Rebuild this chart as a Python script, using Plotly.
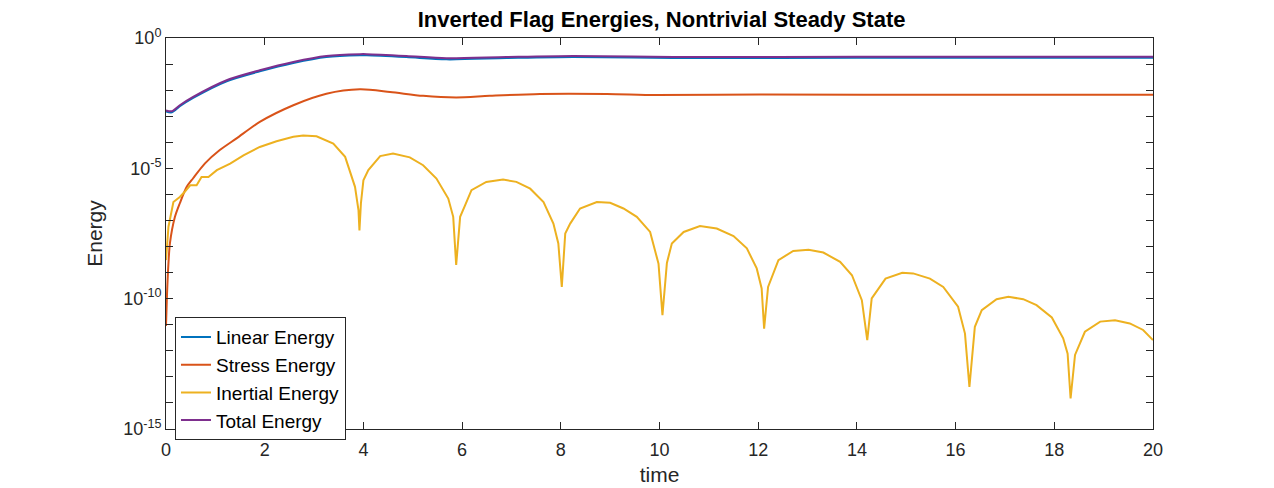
import numpy as np
import plotly.graph_objects as go

# values; energies kept as log10 exponents
total_t = [0.0, 0.12, 0.28, 0.55, 1.23, 1.90, 2.58, 3.25, 3.93, 4.07, 4.87, 5.68,
           6.90, 8.25, 10.28, 14.0, 20.0]
total_log10 = [-2.78, -2.81, -2.58, -2.26, -1.62, -1.24, -0.92, -0.69, -0.62, -0.62,
               -0.69, -0.78, -0.73, -0.69, -0.73, -0.72, -0.72]

linear_t = total_t
linear_log10 = [-2.82, -2.85, -2.62, -2.30, -1.66, -1.28, -0.96, -0.73, -0.66, -0.66,
                -0.73, -0.82, -0.77, -0.73, -0.77, -0.76, -0.76]

stress_t = [0.0, 0.02, 0.05, 0.08, 0.18, 0.28, 0.42, 0.55, 0.79, 1.09, 1.43, 1.90,
            2.58, 3.25, 3.93, 4.54, 5.21, 5.88, 6.56, 7.58, 8.93, 9.94, 12.03, 16.0, 20.0]
stress_log10 = [-11.05, -9.85, -8.63, -7.87, -6.87, -6.34, -5.71, -5.38, -4.81, -4.30,
                -3.85, -3.22, -2.58, -2.14, -1.97, -2.07, -2.22, -2.28, -2.22, -2.15,
                -2.15, -2.19, -2.17, -2.18, -2.18]

inertial_t = [0.0, 0.05, 0.15, 0.28, 0.38, 0.49, 0.62, 0.72, 0.86, 1.03, 1.30, 1.57,
              1.90, 2.24, 2.58, 2.78, 3.05, 3.39, 3.63, 3.79, 3.83, 3.90, 3.92, 3.95,
              4.00, 4.10, 4.34, 4.60, 4.94, 5.21, 5.48, 5.72, 5.82, 5.88, 5.96, 6.06,
              6.19, 6.49, 6.83, 7.10, 7.38, 7.65, 7.85, 7.95, 8.02, 8.09, 8.19, 8.39,
              8.73, 9.00, 9.27, 9.54, 9.81, 9.98, 10.06, 10.15, 10.25, 10.49, 10.82,
              11.16, 11.50, 11.77, 11.97, 12.07, 12.12, 12.20, 12.41, 12.71, 13.02,
              13.32, 13.66, 13.90, 14.10, 14.21, 14.30, 14.58, 14.92, 15.14, 15.48,
              15.75, 16.05, 16.19, 16.28, 16.39, 16.53, 16.83, 17.07, 17.37, 17.64,
              17.95, 18.18, 18.27, 18.33, 18.42, 18.62, 18.93, 19.23, 19.53, 19.80, 20.0]
inertial_log10 = [-8.52, -7.24, -6.29, -6.10, -5.90, -5.65, -5.65, -5.33, -5.33, -5.07,
                  -4.82, -4.50, -4.18, -3.96, -3.79, -3.74, -3.77, -4.05, -4.56, -5.46,
                  -5.71, -6.60, -7.38, -6.34, -5.46, -5.07, -4.53, -4.43, -4.58, -4.88,
                  -5.39, -6.16, -6.86, -8.71, -6.86, -6.42, -5.84, -5.52, -5.43, -5.52,
                  -5.78, -6.29, -7.12, -7.88, -9.55, -7.50, -7.12, -6.54, -6.29, -6.32,
                  -6.54, -6.86, -7.44, -8.66, -10.63, -8.63, -7.88, -7.44, -7.21, -7.31,
                  -7.60, -8.07, -8.84, -9.61, -11.15, -9.55, -8.52, -8.17, -8.12, -8.23,
                  -8.59, -9.10, -10.06, -11.59, -9.99, -9.23, -9.01, -9.03, -9.23, -9.55,
                  -10.31, -11.34, -13.39, -11.08, -10.44, -10.02, -9.93, -10.02, -10.25,
                  -10.72, -11.52, -12.11, -13.83, -12.16, -11.27, -10.88, -10.83, -10.95,
                  -11.20, -11.59]

x_ticks = [0, 2, 4, 6, 8, 10, 12, 14, 16, 18, 20]
y_decades = list(range(0, -16, -1))

series = [
    ("Linear Energy", linear_t, linear_log10, "#0072BD", "spline"),
    ("Stress Energy", stress_t, stress_log10, "#D95319", "spline"),
    ("Inertial Energy", inertial_t, inertial_log10, "#EDB120", "linear"),
    ("Total Energy", total_t, total_log10, "#7E2F8E", "spline"),
]

fig = go.Figure()
for name, t, logv, color, shape in series:
    fig.add_trace(go.Scatter(
        x=t, y=10.0 ** np.array(logv), mode="lines", name=name,
        line=dict(color=color, width=2, shape=shape, smoothing=0.8),
    ))

y_text = ["10<sup>%d</sup>" % d if d % 5 == 0 else "" for d in y_decades]

fig.update_layout(
    width=1274, height=488,
    autosize=False,
    paper_bgcolor="white", plot_bgcolor="white",
    font=dict(family="Liberation Sans, Arial, sans-serif", size=18, color="#262626"),
    title=dict(text="<b>Inverted Flag Energies, Nontrivial Steady State</b>",
               x=0.513, xanchor="center", y=0.977, yanchor="middle",
               font=dict(size=22, color="black")),
    # page body has an 8px margin, so the plot box is shifted by that much
    margin=dict(l=158, r=129, t=30, b=67, autoexpand=False),
    xaxis=dict(
        range=[0, 20], tickvals=x_ticks, ticks="inside", ticklen=7,
        tickcolor="#262626", showline=True, linecolor="#262626", linewidth=1,
        mirror="allticks", showgrid=False, zeroline=False, ticklabelstandoff=4,
        title=dict(text="time", font=dict(size=21), standoff=8),
    ),
    yaxis=dict(
        type="log", range=[-15, 0], tickvals=[10.0 ** d for d in y_decades],
        ticktext=y_text, ticks="inside", ticklen=7, tickcolor="#262626",
        showline=True, linecolor="#262626", linewidth=1, mirror="allticks",
        showgrid=False, zeroline=False,
        title=dict(text="Energy", font=dict(size=21), standoff=14),
    ),
    legend=dict(
        x=0.0091, y=0.286, xanchor="left", yanchor="top",
        bgcolor="white", bordercolor="#262626", borderwidth=1,
        font=dict(size=19, color="black"), itemwidth=30,
        tracegroupgap=0,
    ),
    showlegend=True,
)

fig.write_html("out.html")
